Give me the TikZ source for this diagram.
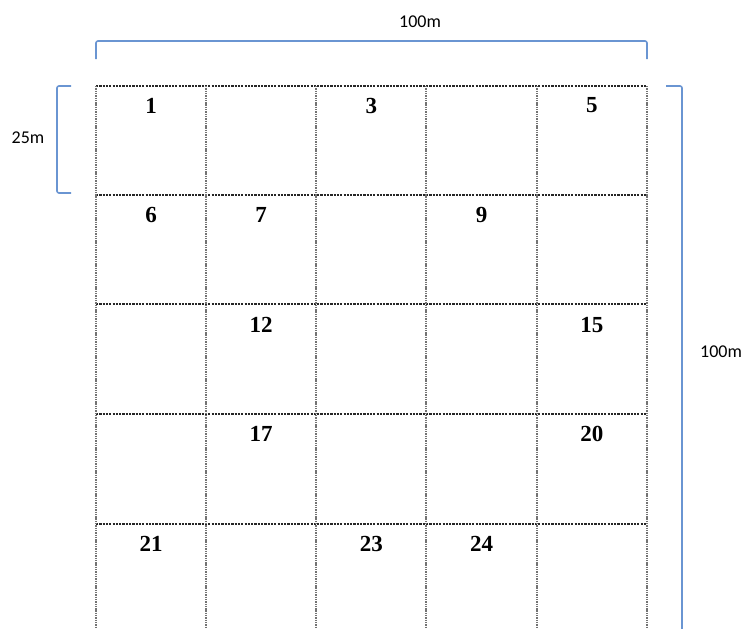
\documentclass[tikz,border=0pt]{standalone}
\usepackage{fontspec}
\setmainfont{Liberation Serif}
\newfontfamily\labelfont{Carlito}
\usepackage{tikz}
\usetikzlibrary{positioning, calc}
\definecolor{bracketblue}{HTML}{6A95D2}
\tikzstyle{hline} = [line width=1.1pt, black!85, dash pattern=on 2.2pt off 1.1pt]
\tikzstyle{vline} = [line width=2pt, black!55, dash pattern=on 1.4pt off 0.9pt]
\tikzstyle{bracket} = [line width=1.6pt, bracketblue, rounded corners=2pt]
\tikzstyle{cellnum} = [font=\fontsize{23}{23}\selectfont\bfseries, inner sep=0pt]
\tikzstyle{dimlabel} = [font=\labelfont\fontsize{18}{18}\selectfont, inner sep=0pt]

\begin{document}
\begin{tikzpicture}[x=1pt, y=-1pt]
    \useasboundingbox (0,0) rectangle (745,629);

    % grid of plots
    \foreach \y in {86,195,304,414,524}
        \draw [hline] (96,\y) -- (647,\y);
    \foreach \x in {96,206,316,426,537,647}
        \draw [vline] (\x,86) -- (\x,640);

    % plot numbers
    \foreach \n/\c/\r in {1/1/1, 3/3/1, 5/5/1, 6/1/2, 7/2/2, 9/4/2, 12/2/3, 15/5/3,
                          17/2/4, 20/5/4, 21/1/5, 23/3/5, 24/4/5}
        \node (plot\n) [cellnum] at ({151+110.2*(\c-1)},{105.5+109.6*(\r-1)}) {\n};

    % dimension brackets
    \coordinate (topL) at (96,59);
    \coordinate (topR) at (647,59);
    \draw [bracket] (topL) |- (371.5,41) -| (topR);
    \node (widthlbl) [dimlabel] at (420,22) {100m};

    \coordinate (cellT) at (71,86);
    \coordinate (cellB) at (71,193);
    \draw [bracket] (cellT) -| (57,140) |- (cellB);
    \node (celllbl) [dimlabel] at (28,138) {25m};

    \coordinate (sideT) at (666,86);
    \coordinate (sideB) at (682,640);
    \draw [bracket] (sideT) -| (sideB);
    \node (heightlbl) [dimlabel] at (721,352) {100m};
\end{tikzpicture}
\end{document}
